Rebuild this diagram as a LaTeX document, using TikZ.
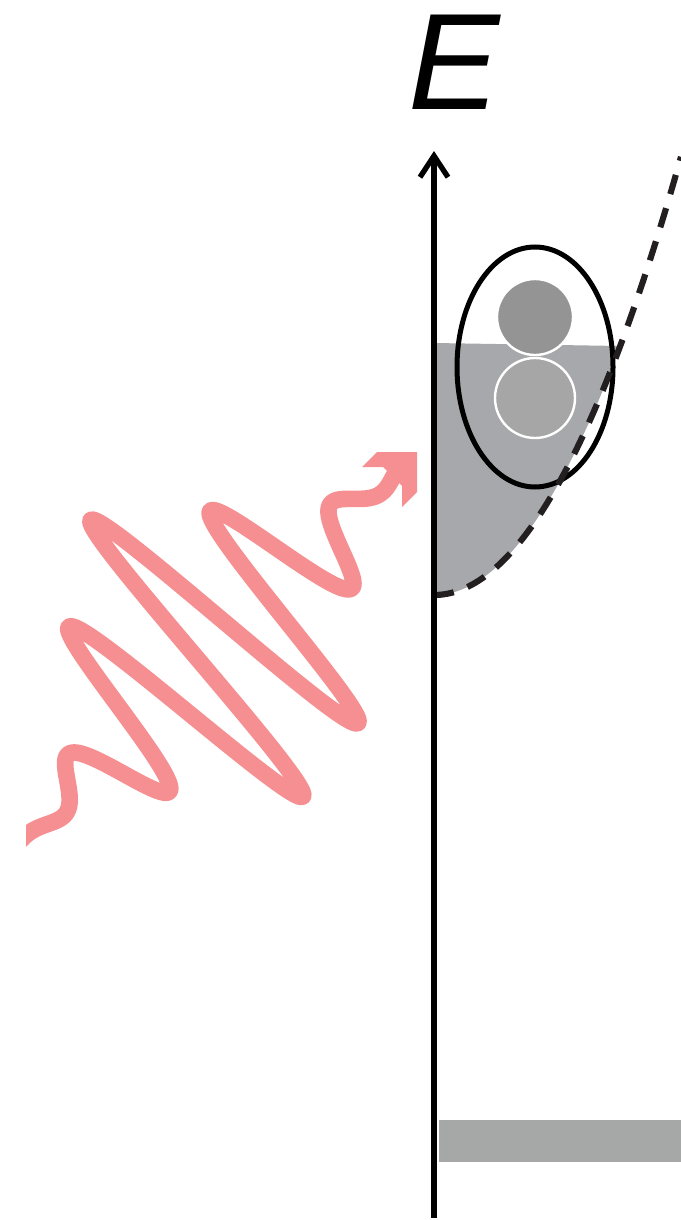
\documentclass[tikz,border=0pt]{standalone}
\usepackage{fontspec}
\newfontfamily\labelfont{Liberation Sans}
\usetikzlibrary{arrows.meta}
\definecolor{photon}{RGB}{245,143,146}
\definecolor{bandgray}{RGB}{167,168,171}
\definecolor{floorgray}{RGB}{165,168,167}
\definecolor{dotdark}{RGB}{148,148,148}
\definecolor{dotlight}{RGB}{166,166,166}
\definecolor{dashblack}{RGB}{35,31,32}
\tikzset{
  band/.style={dashblack,line width=4.6pt,dash pattern=on 15pt off 11pt},
  dot/.style={draw=white,line width=1.8pt},
  declare function={
    wv(\s)=865-255*exp(-((\s+440)/100)*((\s+440)/100)/3.485)*cos(2.727*(\s+693));
    disp(\x)=595-((\x-434)/11.8)*((\x-434)/11.8);
  }
}
\begin{document}
\begin{tikzpicture}[x=0.75pt,y=-0.75pt,>={Straight Barb[length=16pt,width=21pt]}]
 \useasboundingbox (0,0) rectangle (681,1220);
 \coordinate (axbot) at (434,1218);
 \coordinate (axtop) at (434,151);
 % filled states under the dispersion
 \fill[bandgray] (434,343) -- (620,346) -- plot[domain=620:434,samples=60] (\x,{disp(\x)}) -- cycle;
 \draw[dot,fill=dotdark] (535,317) circle[radius=28.5pt];
 \draw[dot,fill=dotlight] (535,398) circle[radius=30pt];
 \draw[line width=3.75pt] (535,367) ellipse[x radius=58.5pt,y radius=90pt];
 \draw[band] plot[domain=434:681,samples=80] (\x,{disp(\x)});
 \fill[floorgray] (439,1120) rectangle (681,1162);
 \draw[line width=4pt,->] (axbot)--(axtop);
 \node[font=\labelfont\itshape\fontsize{103}{103}\selectfont,inner sep=0] (elabel) at (454,62) {E};
 % photon
 \begin{scope}
  \clip (26,0) rectangle (681,1220);
  \draw[photon,line width=12.5pt,line join=round] plot[variable=\s,domain=-840:-75,samples=500] ({(\s+wv(\s))/2},{(wv(\s)-\s)/2});
  \fill[photon] (417,452) -- (377,452) -- (362,467) -- (383,467) -- (402,486) -- (402,507) -- (417,492) -- cycle;
 \end{scope}
\end{tikzpicture}
\end{document}
